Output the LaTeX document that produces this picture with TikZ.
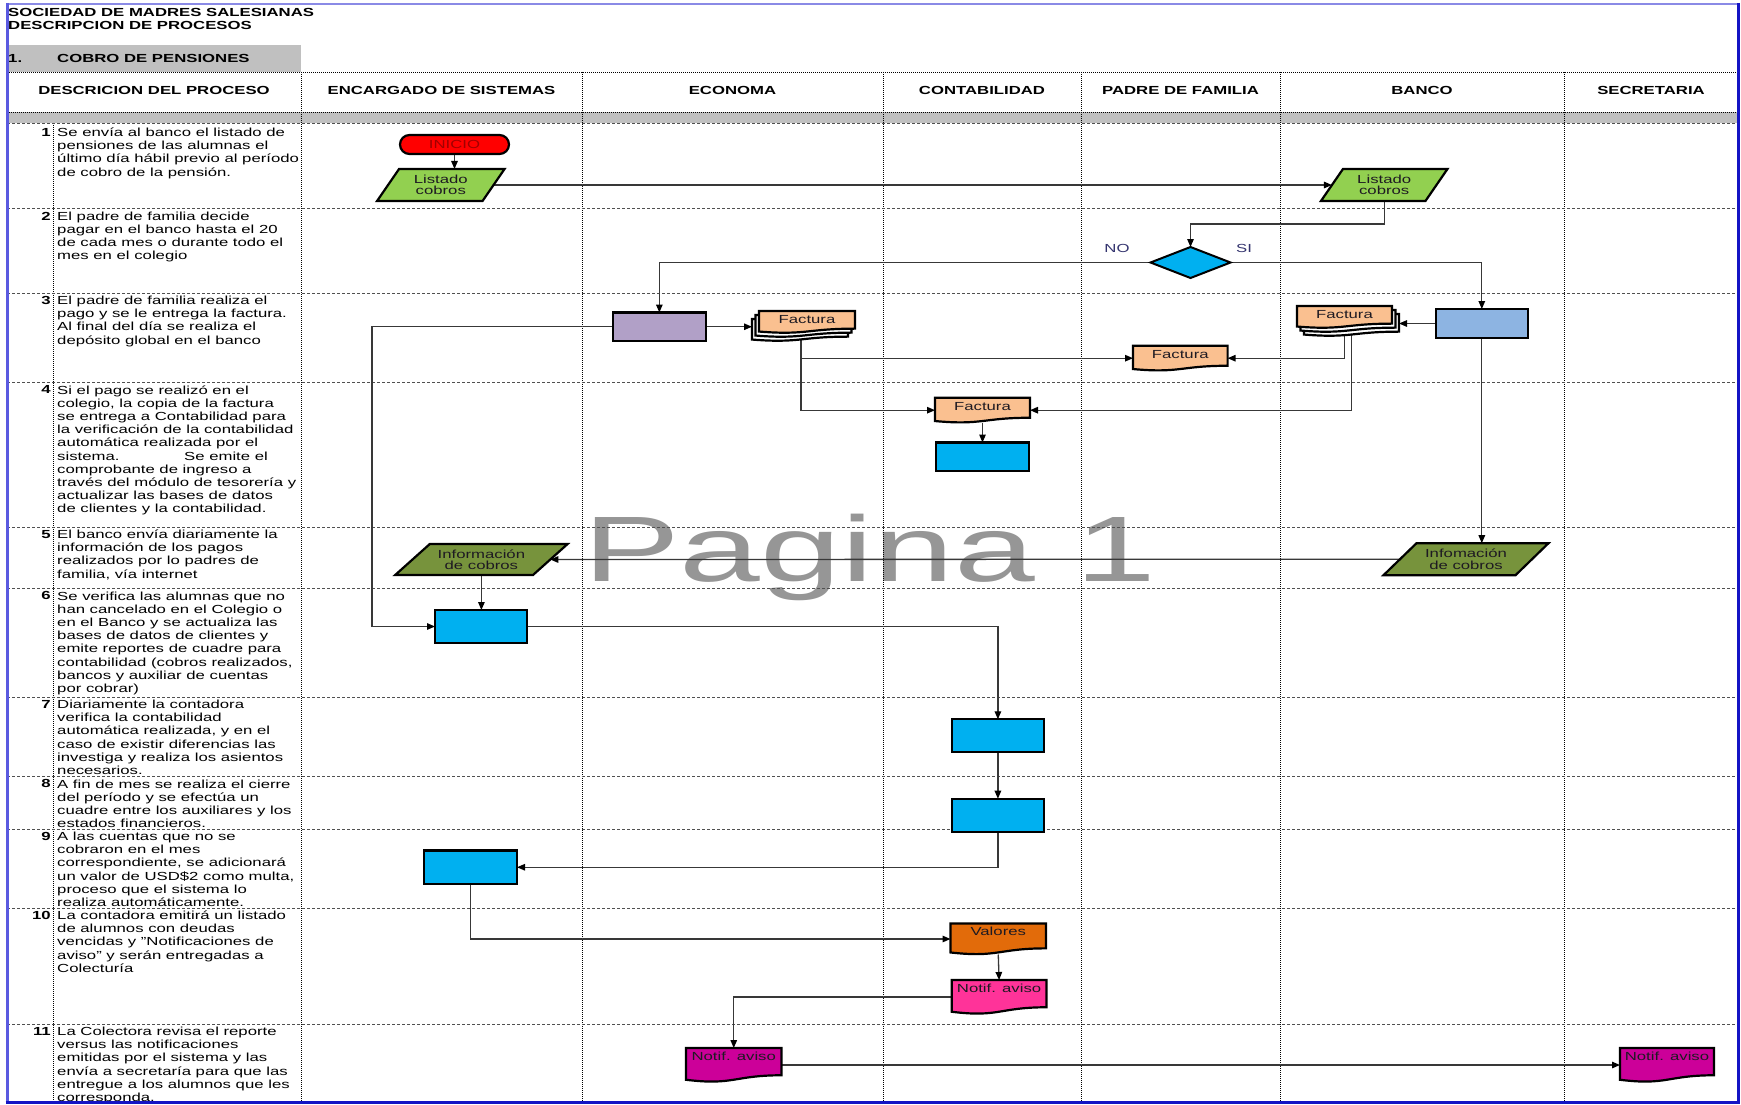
\documentclass[tikz,border=0pt]{standalone}
\usepackage{fontspec}
\setmainfont{Liberation Sans}[FakeStretch=1.43]
\newfontfamily\wmfont{Liberation Sans}[FakeStretch=1.56]
\usetikzlibrary{arrows.meta,shapes.misc,shapes.geometric}

\definecolor{bandGray}{HTML}{C0C0C0}
\definecolor{rowGray}{HTML}{505050}
\definecolor{lineGray}{HTML}{383838}
\definecolor{leftBlue}{HTML}{5A5AE0}
\definecolor{topBlue}{HTML}{8A8AE6}
\definecolor{edgeBlue}{HTML}{1414C4}
\definecolor{startRed}{HTML}{FF0000}
\definecolor{startInk}{HTML}{A00000}
\definecolor{listGreen}{HTML}{92D050}
\definecolor{infoGreen}{HTML}{77933C}
\definecolor{procCyan}{HTML}{00B0F0}
\definecolor{lavender}{HTML}{B1A0C7}
\definecolor{steelBlue}{HTML}{8DB4E2}
\definecolor{peach}{HTML}{FAC090}
\definecolor{valOrange}{HTML}{E26B0A}
\definecolor{notifPink}{HTML}{FF3399}
\definecolor{notifMag}{HTML}{CC0099}
\definecolor{wmGray}{HTML}{969696}
\definecolor{labelInk}{HTML}{1E1A22}
\definecolor{choiceInk}{HTML}{33336E}

\newcommand\dscfont{\fontsize{11.7pt}{13.2pt}\selectfont}
\newcommand\hdrfont{\fontsize{11.7pt}{14pt}\selectfont\bfseries}
\newcommand\lblfont{\fontsize{11.7pt}{11.5pt}\selectfont}
\newcommand\firstln{\rule{0pt}{11.3pt}}

% registers for the custom shapes
\newdimen\docstackdx
\newdimen\leandx
\newdimen\shpXa \newdimen\shpXb \newdimen\shpYlo \newdimen\shpYhi
\newdimen\shpL \newdimen\shpR \newdimen\shpT \newdimen\shpH \newdimen\shpM
\newdimen\shpYa \newdimen\shpYb \newdimen\shpYc
\newdimen\shpTL \newdimen\shpTR

\makeatletter
\def\docgetcorners{%
  \southwest \shpXa=\pgf@x \shpYlo=\pgf@y
  \northeast \shpXb=\pgf@x \shpYhi=\pgf@y}
% page outline: flat top, wavy bottom, shifted by #1 (x) and #2 (y)
\def\docoutline#1#2{%
  \shpL=\shpXa \advance\shpL by #1\relax
  \shpR=\shpXb \advance\shpR by #1\relax
  \shpT=\shpYhi \advance\shpT by #2\relax
  \shpH=\shpYhi \advance\shpH by -\shpYlo
  \shpM=\shpL \advance\shpM by \shpR \divide\shpM by 2
  \shpYa=\shpT \advance\shpYa by -0.802\shpH
  \shpYb=\shpT \advance\shpYb by -1.1075\shpH
  \shpYc=\shpT \advance\shpYc by -0.934\shpH
  \pgfpathmoveto{\pgfqpoint{\shpL}{\shpT}}%
  \pgfpathlineto{\pgfqpoint{\shpR}{\shpT}}%
  \pgfpathlineto{\pgfqpoint{\shpR}{\shpYa}}%
  \pgfpathcurveto{\pgfqpoint{\shpM}{\shpYa}}{\pgfqpoint{\shpM}{\shpYb}}{\pgfqpoint{\shpL}{\shpYc}}%
  \pgfpathclose}
% document (single or stacked pages)
\pgfdeclareshape{docpage}{%
  \inheritsavedanchors[from=rectangle]%
  \inheritanchorborder[from=rectangle]%
  \inheritanchor[from=rectangle]{center}%
  \inheritanchor[from=rectangle]{north}%
  \inheritanchor[from=rectangle]{south}%
  \inheritanchor[from=rectangle]{east}%
  \inheritanchor[from=rectangle]{west}%
  \inheritanchor[from=rectangle]{north east}%
  \inheritanchor[from=rectangle]{north west}%
  \inheritanchor[from=rectangle]{south east}%
  \inheritanchor[from=rectangle]{south west}%
  \behindbackgroundpath{%
    \ifdim\docstackdx=0pt\else
      \docgetcorners
      \pgfscope
        \pgfsetfillcolor{white}%
        \docoutline{2\docstackdx}{-8pt}\pgfusepath{fill,stroke}%
        \docoutline{\docstackdx}{-4pt}\pgfusepath{fill,stroke}%
      \endpgfscope
    \fi}%
  \backgroundpath{\docgetcorners\docoutline{0pt}{0pt}}%
}
% parallelogram leaning to the right
\pgfdeclareshape{leanbox}{%
  \inheritsavedanchors[from=rectangle]%
  \inheritanchorborder[from=rectangle]%
  \inheritanchor[from=rectangle]{center}%
  \inheritanchor[from=rectangle]{north}%
  \inheritanchor[from=rectangle]{south}%
  \inheritanchor[from=rectangle]{east}%
  \inheritanchor[from=rectangle]{west}%
  \backgroundpath{%
    \docgetcorners
    \shpL=\shpXa \advance\shpL by -\leandx
    \shpR=\shpXb \advance\shpR by -\leandx
    \shpTL=\shpXa \advance\shpTL by \leandx
    \shpTR=\shpXb \advance\shpTR by \leandx
    \pgfpathmoveto{\pgfqpoint{\shpL}{\shpYlo}}%
    \pgfpathlineto{\pgfqpoint{\shpR}{\shpYlo}}%
    \pgfpathlineto{\pgfqpoint{\shpTR}{\shpYhi}}%
    \pgfpathlineto{\pgfqpoint{\shpTL}{\shpYhi}}%
    \pgfpathclose}%
}
\makeatother

\pgfdeclarelayer{back}
\pgfsetlayers{back,main}

\tikzset{
  stackdx/.code={\docstackdx=#1},
  lean/.code={\leandx=#1},
  vdot/.style={draw=black, line width=0.8pt, dash pattern=on 1pt off 1pt},
  hdash/.style={draw=rowGray, line width=0.8pt, dash pattern=on 3pt off 2pt},
  ttl/.style={font=\hdrfont, inner sep=0pt, anchor=west},
  hdr/.style={font=\hdrfont, inner sep=0pt},
  desc/.style={font=\dscfont, align=left, inner sep=0pt, anchor=north west},
  num/.style={font=\dscfont\bfseries, inner sep=0pt, anchor=base east},
  shapeline/.style={draw=black, line width=2.2pt, inner sep=0pt, outer sep=0pt,
                    font=\lblfont, text=labelInk},
  startshape/.style={shapeline, rounded rectangle, fill=startRed, text=startInk,
                     minimum width=109pt, minimum height=19pt},
  procshape/.style={shapeline, rectangle},
  leanshape/.style={shapeline, shape=leanbox, align=center},
  docshape/.style={shapeline, shape=docpage, text height=12.3pt, stackdx=0pt},
  choice/.style={font=\lblfont, text=choiceInk, inner sep=0pt},
  flow/.style={draw=lineGray, line width=1.3pt,
               -{Triangle[length=8pt,width=6.5pt,color=black]}},
}

\begin{document}
\begin{tikzpicture}[x=1pt, y=-1pt]
\useasboundingbox (0,0) rectangle (1741,1105);

\begin{pgfonlayer}{back}
  \fill[white] (0,0) rectangle (1741,1105);
  % watermark
  \node[font=\wmfont\fontsize{93pt}{93pt}\selectfont, text=wmGray, inner sep=0pt,
        anchor=base west] (wm) at (583,581) {Pagina 1};
  % grey bands
  \fill[bandGray] (7,45) rectangle (301,72);
  \fill[bandGray] (7,112) rectangle (1738,123);
  % lane separators
  \foreach \x in {301,582,883,1081,1280,1564}
    \draw[vdot] (\x,72) -- (\x,1102);
  \draw[vdot] (53,123) -- (53,1102);
  \draw[vdot] (7,72) -- (1738,72);
  \draw[vdot] (7,112) -- (1738,112);
  % step separators
  \foreach \y in {123,208.7,293,382.5,527,588.5,697,776.5,829,908,1024}
    \draw[hdash] (7,\y) -- (1738,\y);
\end{pgfonlayer}

% titles
\node[ttl] (title1) at (8,12.5) {SOCIEDAD DE MADRES SALESIANAS};
\node[ttl] (title2) at (8,25) {DESCRIPCION DE PROCESOS};
\node[ttl] (secnum) at (8,58.5) {1.};
\node[ttl] (secname) at (57,58.5) {COBRO DE PENSIONES};

% lane headers
\node[hdr] (hDesc) at (154,90) {DESCRICION DEL PROCESO};
\node[hdr] (hSis) at (441.5,90) {ENCARGADO DE SISTEMAS};
\node[hdr] (hEco) at (732.5,90) {ECONOMA};
\node[hdr] (hCon) at (982,90) {CONTABILIDAD};
\node[hdr] (hPad) at (1180.5,90) {PADRE DE FAMILIA};
\node[hdr] (hBan) at (1422,90) {BANCO};
\node[hdr] (hSec) at (1651,90) {SECRETARIA};

% step descriptions
\node[num] (n1) at (51,136.3) {1};
\node[desc] (d1) at (57,125) {\firstln Se envía al banco el listado de\\pensiones de las alumnas el\\último día hábil previo al período\\de cobro de la pensión.};
\node[num] (n2) at (51,220) {2};
\node[desc] (d2) at (57,208.7) {\firstln El padre de familia decide\\pagar en el banco hasta el 20\\de cada mes o durante todo el\\mes en el colegio};
\node[num] (n3) at (51,304.3) {3};
\node[desc] (d3) at (57,293) {\firstln El padre de familia realiza el\\pago y se le entrega la factura.\\Al final del día se realiza el\\depósito global en el banco};
\node[num] (n4) at (51,393.8) {4};
\node[desc] (d4) at (57,382.5) {\firstln Si el pago se realizó en el\\colegio, la copia de la factura\\se entrega a Contabilidad para\\la verificación de la contabilidad\\automática realizada por el\\\makebox[127pt][l]{sistema.}Se emite el\\comprobante de ingreso a\\través del módulo de tesorería y\\actualizar las bases de datos\\de clientes y la contabilidad.};
\node[num] (n5) at (51,538.3) {5};
\node[desc] (d5) at (57,527) {\firstln El banco envía diariamente la\\información de los pagos\\realizados por lo padres de\\familia, vía internet};
\node[num] (n6) at (51,599.8) {6};
\node[desc] (d6) at (57,588.5) {\firstln Se verifica las alumnas que no\\han cancelado en el Colegio o\\en el Banco y se actualiza las\\bases de datos de clientes y\\emite reportes de cuadre para\\contabilidad (cobros realizados,\\bancos y auxiliar de cuentas\\por cobrar)};
\node[num] (n7) at (51,708.3) {7};
\node[desc] (d7) at (57,697) {\firstln Diariamente la contadora\\verifica la contabilidad\\automática realizada, y en el\\caso de existir diferencias las\\investiga y realiza los asientos\\necesarios.};
\node[num] (n8) at (51,787.8) {8};
\node[desc] (d8) at (57,776.5) {\firstln A fin de mes se realiza el cierre\\del período y se efectúa un\\cuadre entre los auxiliares y los\\estados financieros.};
\node[num] (n9) at (51,840.3) {9};
\node[desc] (d9) at (57,829) {\firstln A las cuentas que no se\\cobraron en el mes\\correspondiente, se adicionará\\un valor de USD\$2 como multa,\\proceso que el sistema lo\\realiza automáticamente.};
\node[num] (n10) at (51,919.3) {10};
\node[desc] (d10) at (57,908) {\firstln La contadora emitirá un listado\\de alumnos con deudas\\vencidas y "Notificaciones de\\aviso" y serán entregadas a\\Colecturía};
\node[num] (n11) at (51,1035.3) {11};
\node[desc] (d11) at (57,1024) {\firstln La Colectora revisa el reporte\\versus las notificaciones\\emitidas por el sistema y las\\envía a secretaría para que las\\entregue a los alumnos que les\\corresponda.};

% flow shapes
\node[startshape] (inicio) at (454.5,144.5) {INICIO};
\node[leanshape, lean=11pt, fill=listGreen, minimum width=105.5pt, minimum height=32pt] (lst1) at (440.8,185) {Listado\\cobros};
\node[leanshape, lean=11pt, fill=listGreen, minimum width=104.5pt, minimum height=32pt] (lst2) at (1384.2,185) {Listado\\cobros};
\node[diamond, draw=black, line width=2pt, fill=procCyan, inner sep=0pt, outer sep=0pt,
      minimum width=80pt, minimum height=31pt] (dec) at (1190.5,262.5) {};
\node[choice] (lblNo) at (1117,248) {NO};
\node[choice] (lblSi) at (1244,248) {SI};

\node[procshape, fill=lavender, minimum width=92.7pt, minimum height=28.5pt] (pago) at (659.35,326.75) {};
\node[procshape, fill=steelBlue, minimum width=92.4pt, minimum height=29pt] (bnk) at (1481.8,323.5) {};

\node[docshape, stackdx=-3.5pt, fill=peach, minimum width=96pt, text depth=9.7pt] (facEco) at (807,322) {Factura};
\node[docshape, stackdx=3.5pt, fill=peach, minimum width=95pt, text depth=9.7pt] (facBan) at (1344.5,317) {Factura};
\node[docshape, fill=peach, minimum width=94.6pt, text depth=12.7pt] (facPad) at (1180.3,358.2) {Factura};
\node[docshape, fill=peach, minimum width=95pt, text depth=12.7pt] (facCon) at (982.5,410.2) {Factura};
\node[procshape, fill=procCyan, minimum width=93pt, minimum height=28.5pt] (conBox) at (982.5,456.75) {};

\node[leanshape, lean=16.5pt, fill=infoGreen, minimum width=132pt, minimum height=32pt] (infR) at (1466,559.2) {Infomación\\de cobros};
\node[leanshape, lean=17.3pt, fill=infoGreen, minimum width=137.8pt, minimum height=31pt] (infL) at (481.4,559.5) {Información\\de cobros};

\node[procshape, fill=procCyan, minimum width=92pt, minimum height=33pt] (box6) at (481,626.5) {};
\node[procshape, fill=procCyan, minimum width=92.2pt, minimum height=33pt] (box7) at (997.9,735.8) {};
\node[procshape, fill=procCyan, minimum width=92.2pt, minimum height=33pt] (box8) at (997.9,815.2) {};
\node[procshape, fill=procCyan, minimum width=93pt, minimum height=33.5pt] (box9) at (470.5,867.25) {};

\node[docshape, fill=valOrange, minimum width=95.5pt, text depth=18.7pt] (valores) at (998.25,939) {Valores};
\node[docshape, fill=notifPink, minimum width=94.6pt, text depth=21.7pt] (notifC) at (999.1,997) {Notif. aviso};
\node[docshape, fill=notifMag, minimum width=95.5pt, text depth=21.7pt] (notifE) at (733.75,1065) {Notif. aviso};
\node[docshape, fill=notifMag, minimum width=94pt, text depth=21.7pt] (notifS) at (1667,1065) {Notif. aviso};

% connectors
\begin{pgfonlayer}{back}
  \draw[flow] (inicio.south) -- (inicio.south |- lst1.north);
  \draw[flow] (lst1.east) -- (lst2.west);
  \draw[flow] (lst2.south) -- ++(0,23) -| (dec.north);
  \draw[flow] (dec.west) -| (pago.north);
  \draw[flow] (dec.east) -| (bnk.north);
  \draw[flow] (bnk.west) -- ([xshift=7pt]facBan.east |- bnk.west);
  \draw[flow] (pago.east) -- ([xshift=-7pt]facEco.west |- pago.east);
  \draw[flow] (pago.west) -- ++(-241,0) |- (box6.west);
  \draw[flow] ([xshift=-6pt]facEco.south) |- (facCon.west);
  \draw[flow] ([xshift=-6pt]facEco.south |- facPad.west) -- (facPad.west);
  \draw[flow] (facBan.south) |- (facPad.east);
  \draw[flow] ([xshift=7pt]facBan.south) |- (facCon.east);
  \draw[flow] (facCon.south) -- (conBox.north);
  \draw[flow] (bnk.south) -- (bnk.south |- infR.north);
  \draw[flow] (infR.west) -- (infL.east);
  \draw[flow] (infL.south) -- (infL.south |- box6.north);
  \draw[flow] (box6.east) -| (box7.north);
  \draw[flow] (box7.south) -- (box8.north);
  \draw[flow] (box8.south) |- (box9.east);
  \draw[flow] (box9.south) |- (valores.west);
  \draw[flow] (valores.south) -- (notifC.north);
  \draw[flow] (notifC.west) -| (notifE.north);
  \draw[flow] (notifE.east) -- (notifS.west);
\end{pgfonlayer}

% sheet frame
\draw[topBlue, line width=1.2pt] (7,4) -- (1738,4);
\draw[leftBlue, line width=3pt] (7,3) -- (7,1103.5);
\draw[edgeBlue, line width=3pt] (1738,3) -- (1738,1103.5);
\draw[edgeBlue, line width=3pt] (5.5,1102) -- (1739.5,1102);
\end{tikzpicture}
\end{document}
